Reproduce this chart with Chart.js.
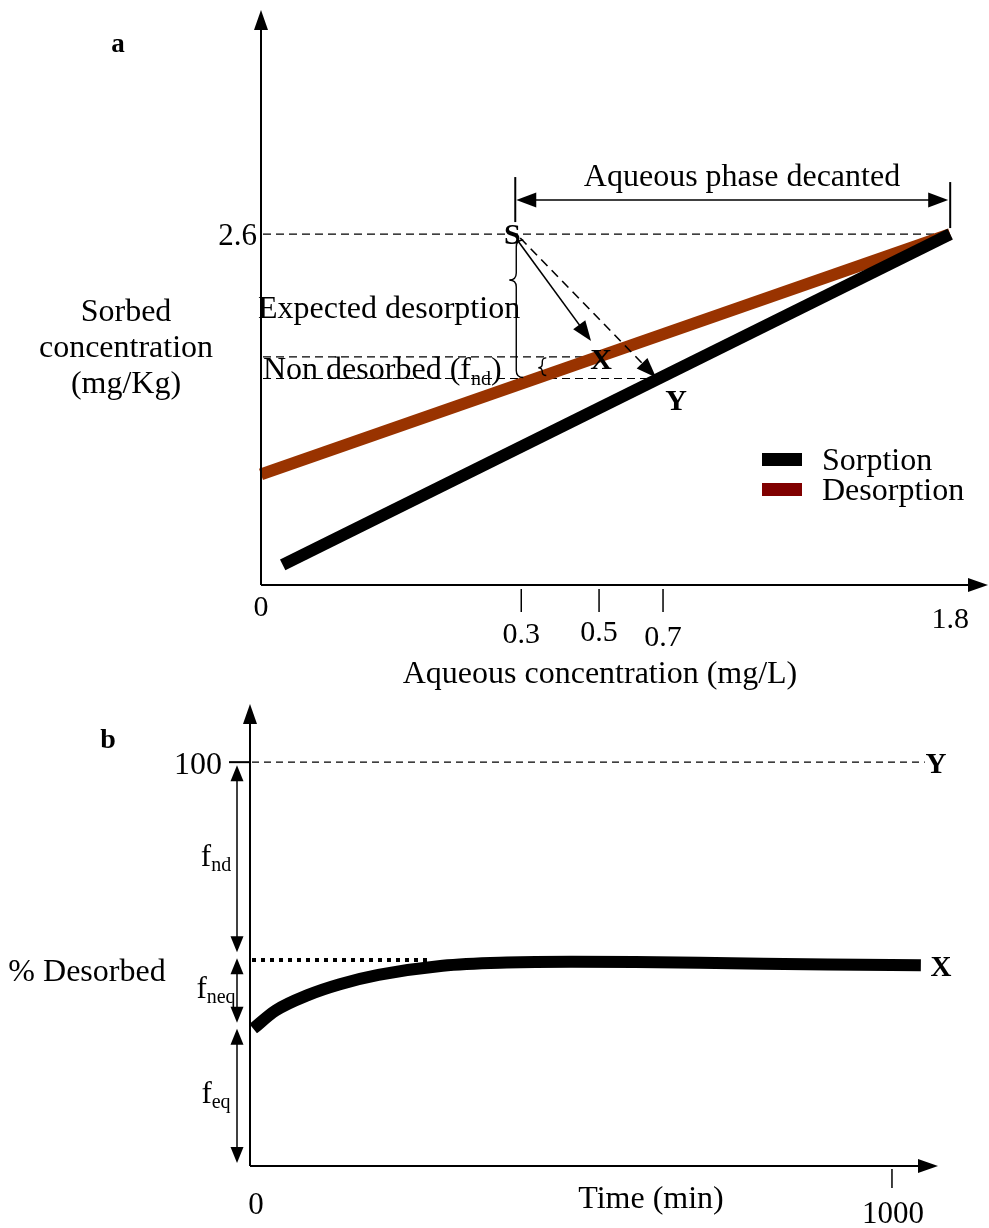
<!DOCTYPE html>
<html>
<head>
<meta charset="utf-8">
<script src="https://cdn.jsdelivr.net/npm/chart.js@4.4.0/dist/chart.umd.min.js"></script>
<style>
  body { margin: 0; background: #fff; }
  #wrap { position: relative; width: 989px; height: 1228px; }
  canvas { position: absolute; left: 0; }
</style>
</head>
<body>
<div id="wrap">
  <canvas id="chartA" width="989" height="690" style="top:0"></canvas>
  <canvas id="chartB" width="989" height="538" style="top:690px"></canvas>
</div>
<script>
// ---- panel a : sorption / desorption isotherms ----
const sorptionX = [0.025, 1.8];
const sorptionY = [0.15, 2.6];
const desorptionX = [0, 1.8];
const desorptionY = [0.82, 2.6];
const markLabels = ['S', 'X', 'Y'];
const markX = [0.3, 0.5, 0.7];
const markY = [2.6, 1.69, 1.53];
const xTicksA = [0, 0.3, 0.5, 0.7, 1.8];
const xTickLabelsA = ['0', '0.3', '0.5', '0.7', '1.8'];
const yTicksA = [2.6];

// ---- panel b : % desorbed vs time ----
const timeMin = [5, 40, 90, 140, 200, 300, 400, 500, 600, 700, 800, 900, 1045];
const desorbedPct = [34, 38.5, 42.3, 45, 47.3, 49.6, 50.4, 50.6, 50.5, 50.3, 50.1, 49.9, 49.7];
const equilibriumPct = 51;
const equilibriumEnd = 280;
const fractionNames = ['nd', 'neq', 'eq'];
const fractionBounds = [100, 52.2, 34.7, 0];
const xTicksB = [0, 1000];
const yTicksB = [100];

const FONT = '"Liberation Serif", "Times New Roman", serif';
function font(size, bold) { return (bold ? 'bold ' : '') + size + 'px ' + FONT; }

// canvas "middle" sits a bit high for this face, nudge down
const TEXT_DY = 3;

function text(ctx, s, x, y, size, align, bold) {
  ctx.font = font(size, bold);
  ctx.textAlign = align || 'center';
  ctx.textBaseline = 'middle';
  ctx.fillStyle = '#000';
  ctx.fillText(s, x, y + TEXT_DY);
}

// base text followed by a subscript
function subText(ctx, base, sub, tail, x, y, size, align) {
  const subSize = Math.round(size * 0.64);
  ctx.font = font(size); const w1 = ctx.measureText(base).width;
  const w3 = tail ? ctx.measureText(tail).width : 0;
  ctx.font = font(subSize); const w2 = ctx.measureText(sub).width;
  let x0 = x;
  if (align === 'center') x0 = x - (w1 + w2 + w3) / 2;
  y += TEXT_DY;
  ctx.fillStyle = '#000';
  ctx.textAlign = 'left';
  ctx.textBaseline = 'middle';
  ctx.font = font(size); ctx.fillText(base, x0, y);
  ctx.font = font(subSize); ctx.fillText(sub, x0 + w1, y + size * 0.26);
  if (tail) { ctx.font = font(size); ctx.fillText(tail, x0 + w1 + w2, y); }
}

function head(ctx, x1, y1, x2, y2, len, w) {
  const a = Math.atan2(y2 - y1, x2 - x1);
  const bx = x2 - len * Math.cos(a), by = y2 - len * Math.sin(a);
  ctx.beginPath();
  ctx.moveTo(x2, y2);
  ctx.lineTo(bx + w / 2 * Math.sin(a), by - w / 2 * Math.cos(a));
  ctx.lineTo(bx - w / 2 * Math.sin(a), by + w / 2 * Math.cos(a));
  ctx.closePath();
  ctx.fill();
}

function arrow(ctx, x1, y1, x2, y2, o) {
  o = o || {};
  const len = o.len || 16, w = o.w || 12;
  const a = Math.atan2(y2 - y1, x2 - x1);
  let sx = x1, sy = y1;
  if (o.both) { sx = x1 + (len - 2) * Math.cos(a); sy = y1 + (len - 2) * Math.sin(a); }
  const ex = x2 - (len - 2) * Math.cos(a), ey = y2 - (len - 2) * Math.sin(a);
  ctx.save();
  ctx.strokeStyle = '#000'; ctx.fillStyle = '#000';
  ctx.lineWidth = o.lw || 1.6;
  ctx.setLineDash(o.dash || []);
  ctx.beginPath(); ctx.moveTo(sx, sy); ctx.lineTo(ex, ey); ctx.stroke();
  ctx.setLineDash([]);
  head(ctx, x1, y1, x2, y2, len, w);
  if (o.both) head(ctx, x2, y2, x1, y1, len, w);
  ctx.restore();
}

function line(ctx, x1, y1, x2, y2, lw, dash) {
  ctx.save();
  ctx.strokeStyle = '#000'; ctx.lineWidth = lw || 1.2;
  ctx.setLineDash(dash || []);
  ctx.beginPath(); ctx.moveTo(x1, y1); ctx.lineTo(x2, y2); ctx.stroke();
  ctx.restore();
}

// "{" shaped brace, cusp at ym
function brace(ctx, x, y1, y2, ym, w) {
  ctx.save();
  ctx.strokeStyle = '#000'; ctx.lineWidth = 1.4;
  ctx.beginPath();
  ctx.moveTo(x + w, y1);
  ctx.quadraticCurveTo(x, y1, x, y1 + w);
  ctx.lineTo(x, ym - w);
  ctx.quadraticCurveTo(x, ym, x - w, ym);
  ctx.quadraticCurveTo(x, ym, x, ym + w);
  ctx.lineTo(x, y2 - w);
  ctx.quadraticCurveTo(x, y2, x + w, y2);
  ctx.stroke();
  ctx.restore();
}

// the aqueous axis of panel a is a schematic one: ticks are not evenly spaced
function interp(v, from, to) {
  let i = 0;
  while (i < from.length - 2 && v > from[i + 1]) i++;
  return to[i] + (v - from[i]) / (from[i + 1] - from[i]) * (to[i + 1] - to[i]);
}
class SchematicScale extends Chart.LinearScale {
  getPixelForValue(value) {
    return this.getPixelForDecimal(interp(value, SchematicScale.knots, SchematicScale.fractions));
  }
  getValueForPixel(pixel) {
    return interp(this.getDecimalForPixel(pixel), SchematicScale.fractions, SchematicScale.knots);
  }
}
SchematicScale.id = 'schematic';
SchematicScale.defaults = Chart.LinearScale.defaults;
SchematicScale.knots = [0, 0.3, 0.5, 0.7, 1.8, 1.95];
SchematicScale.fractions = [0, 0.358, 0.465, 0.553, 0.948, 1];
Chart.register(SchematicScale);

function toXY(xs, ys) { return xs.map((x, i) => ({ x: x, y: ys[i] })); }

const panelA = {
  id: 'panelA',
  beforeDatasetsDraw(chart) {
    const ctx = chart.ctx, x = chart.scales.x, y = chart.scales.y;
    const xp = v => x.getPixelForValue(v), yp = v => y.getPixelForValue(v);
    const dash = [8, 5];
    line(ctx, x.left + 2, yp(yTicksA[0]), xp(xTicksA[4]), yp(yTicksA[0]), 1.2, dash);
    line(ctx, x.left + 2, yp(markY[1]), xp(markX[1]) - 8, yp(markY[1]), 1.2, dash);
    line(ctx, x.left + 2, yp(markY[2]), xp(markX[2]) - 10, yp(markY[2]), 1.2, dash);
  },
  afterDatasetsDraw(chart) {
    const ctx = chart.ctx, x = chart.scales.x, y = chart.scales.y;
    const xp = v => x.getPixelForValue(v), yp = v => y.getPixelForValue(v);
    ctx.save();
    ctx.fillStyle = '#000';
    // axes
    line(ctx, x.left, y.bottom, x.left, y.top + 14, 2);
    line(ctx, x.left, y.bottom, x.right - 14, y.bottom, 2);
    head(ctx, x.left, y.bottom, x.left, y.top, 20, 14);
    head(ctx, x.left, y.bottom, x.right, y.bottom, 20, 14);
    // x ticks
    const dy = [20, 47, 45, 50, 32];
    xTicksA.forEach((v, i) => {
      if (i > 0 && i < xTicksA.length - 1) line(ctx, xp(v), y.bottom + 4, xp(v), y.bottom + 27, 1.5);
      text(ctx, xTickLabelsA[i], xp(v), y.bottom + dy[i], 30);
    });
    yTicksA.forEach(v => text(ctx, String(v), x.left - 4, yp(v), 31, 'right'));
    text(ctx, 'Aqueous concentration (mg/L)', 600, y.bottom + 87, 32);
    text(ctx, 'Sorbed', 126, 310, 32);
    text(ctx, 'concentration', 126, 346, 32);
    text(ctx, '(mg/Kg)', 126, 382, 32);
    text(ctx, 'a', 118, 42, 27, 'center', true);

    const sx = xp(markX[0]), sy = yp(markY[0]);
    const mx = xp(markX[1]), my = yp(markY[1]);
    const nx = xp(markX[2]), ny = yp(markY[2]);
    // decanted span
    const rx = xp(xTicksA[4]);
    line(ctx, sx - 6, sy - 57, sx - 6, sy - 12, 2);
    line(ctx, rx, sy - 52, rx, sy - 6, 2);
    arrow(ctx, sx - 5, sy - 34, rx - 2, sy - 34, { both: true, len: 20, w: 15, lw: 1.6 });
    text(ctx, 'Aqueous phase decanted', 742, sy - 59, 32);
    // paths S -> X, S -> Y
    arrow(ctx, sx - 4, sy + 6, mx - 8, my - 16, { len: 20, w: 15 });
    arrow(ctx, sx - 1, sy + 4, nx - 7, ny - 1, { len: 20, w: 15, dash: [9, 6] });
    // braces
    brace(ctx, sx - 5, sy + 6, ny - 1, sy + 46, 7);
    brace(ctx, sx + 21, my + 1, ny - 3, (my + ny) / 2, 4);
    text(ctx, 'Expected desorption', 258, 307, 32, 'left');
    subText(ctx, 'Non desorbed (f', 'nd', ')', 263, 368, 32, 'left');
    // point labels
    text(ctx, markLabels[0], sx - 9, sy - 1, 30, 'center', true);
    text(ctx, markLabels[1], mx + 2, my + 1, 30, 'center', true);
    text(ctx, markLabels[2], nx + 13, ny + 21, 30, 'center', true);
    // legend
    chart.data.datasets.forEach((d, i) => {
      const ly = 459 + i * 30;
      ctx.fillStyle = d.legendColor;
      ctx.fillRect(762, ly - 6, 40, 13);
      text(ctx, d.label, 822, ly, 32, 'left');
    });
    ctx.restore();
  }
};

new Chart(document.getElementById('chartA'), {
  type: 'line',
  data: {
    datasets: [
      { label: 'Sorption', data: toXY(sorptionX, sorptionY), borderColor: '#000000', legendColor: '#000000',
        borderWidth: 12, borderCapStyle: 'butt', pointRadius: 0, tension: 0, clip: false },
      { label: 'Desorption', data: toXY(desorptionX, desorptionY), borderColor: '#993300', legendColor: '#800000',
        borderWidth: 12, borderCapStyle: 'butt', pointRadius: 0, tension: 0, clip: false }
    ]
  },
  options: {
    responsive: false, animation: false, devicePixelRatio: 1,
    layout: { padding: { left: 261, right: 1, top: 10, bottom: 105 } },
    plugins: { legend: { display: false }, tooltip: { enabled: false } },
    scales: {
      x: { type: 'schematic', min: 0, max: 1.95, display: false },
      y: { type: 'linear', min: 0, max: 4.26, display: false }
    }
  },
  plugins: [panelA]
});

const panelB = {
  id: 'panelB',
  beforeDatasetsDraw(chart) {
    const ctx = chart.ctx, x = chart.scales.x, y = chart.scales.y;
    const xp = v => x.getPixelForValue(v), yp = v => y.getPixelForValue(v);
    line(ctx, x.left + 2, yp(yTicksB[0]), xp(timeMin[timeMin.length - 1]) + 4, yp(yTicksB[0]), 1.2, [7, 5]);
    line(ctx, x.left + 2, yp(equilibriumPct), xp(equilibriumEnd), yp(equilibriumPct), 4, [4, 5]);
  },
  afterDatasetsDraw(chart) {
    const ctx = chart.ctx, x = chart.scales.x, y = chart.scales.y;
    const xp = v => x.getPixelForValue(v), yp = v => y.getPixelForValue(v);
    ctx.save();
    ctx.fillStyle = '#000';
    line(ctx, x.left, y.bottom, x.left, y.top + 14, 2);
    line(ctx, x.left, y.bottom, x.right - 14, y.bottom, 2);
    head(ctx, x.left, y.bottom, x.left, y.top, 20, 14);
    head(ctx, x.left, y.bottom, x.right, y.bottom, 20, 14);
    // ticks
    line(ctx, x.left - 21, yp(yTicksB[0]), x.left, yp(yTicksB[0]), 2);
    text(ctx, String(yTicksB[0]), x.left - 28, yp(yTicksB[0]), 32, 'right');
    line(ctx, xp(xTicksB[1]), y.bottom + 3, xp(xTicksB[1]), y.bottom + 22, 1.5);
    text(ctx, String(xTicksB[0]), x.left + 6, y.bottom + 37, 31);
    text(ctx, String(xTicksB[1]), xp(xTicksB[1]) + 1, y.bottom + 46, 31);
    text(ctx, 'Time (min)', 651, y.bottom + 31, 32);
    text(ctx, '% Desorbed', 87, 280, 32);
    text(ctx, 'b', 108, 48, 28, 'center', true);
    text(ctx, 'Y', xp(timeMin[timeMin.length - 1]) + 15, yp(yTicksB[0]), 29, 'center', true);
    text(ctx, 'X', xp(timeMin[timeMin.length - 1]) + 20, yp(desorbedPct[desorbedPct.length - 1]), 29, 'center', true);
    // fraction brackets
    const ax = x.left - 13;
    fractionNames.forEach((n, i) => {
      const t = yp(fractionBounds[i]) + 3, b = yp(fractionBounds[i + 1]) - 3;
      arrow(ctx, ax, t, ax, b, { both: true, len: 16, w: 13, lw: 1.5 });
      subText(ctx, 'f', n, '', 216, (t + b) / 2 - 4, 31, 'center');
    });
    ctx.restore();
  }
};

new Chart(document.getElementById('chartB'), {
  type: 'line',
  data: {
    datasets: [
      { label: '% Desorbed', data: toXY(timeMin, desorbedPct), borderColor: '#000000',
        borderWidth: 12, borderCapStyle: 'butt', pointRadius: 0, cubicInterpolationMode: 'monotone', clip: false }
    ]
  },
  options: {
    responsive: false, animation: false, devicePixelRatio: 1,
    layout: { padding: { left: 250, right: 51, top: 14, bottom: 62 } },
    plugins: { legend: { display: false }, tooltip: { enabled: false } },
    scales: {
      x: { type: 'linear', min: 0, max: 1071.7, display: false },
      y: { type: 'linear', min: 0, max: 114.4, display: false }
    }
  },
  plugins: [panelB]
});
</script>
</body>
</html>
